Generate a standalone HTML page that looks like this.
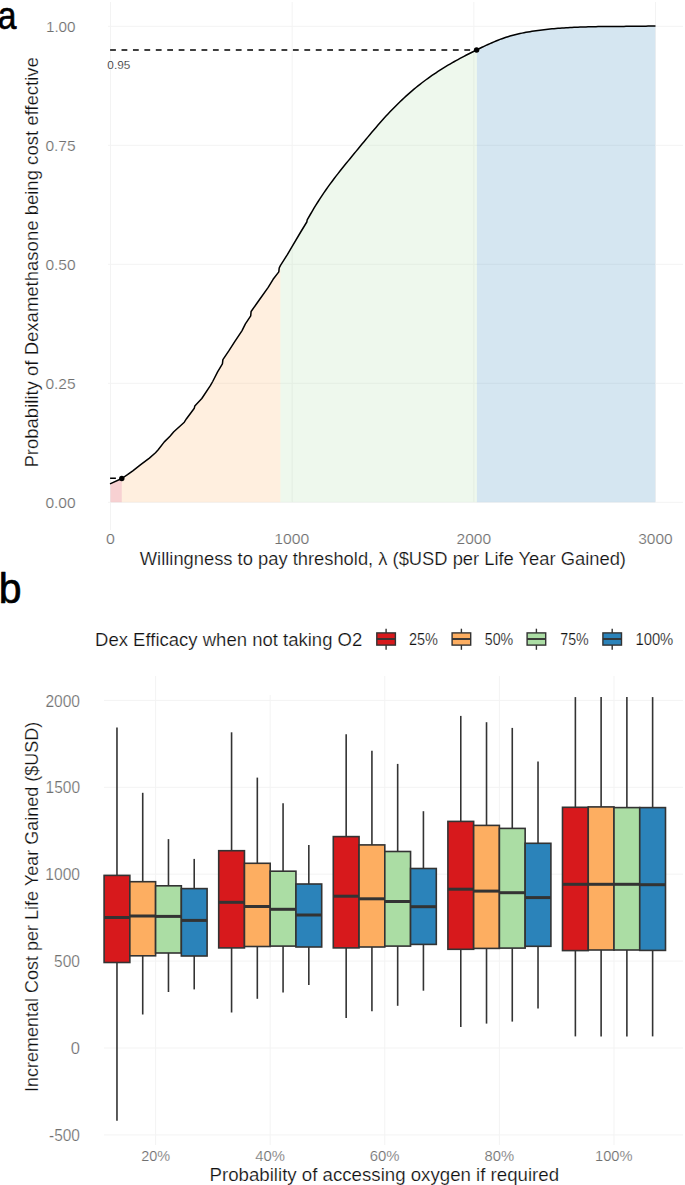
<!DOCTYPE html>
<html><head><meta charset="utf-8"><style>
html,body{margin:0;padding:0;background:#fff;width:685px;height:1185px;overflow:hidden}
svg{display:block}
</style></head><body>
<svg width="685" height="1185" viewBox="0 0 685 1185" font-family='"Liberation Sans", sans-serif'>
<rect x="0" y="0" width="685" height="1185" fill="#fff"/>
<line x1="108" y1="502.30" x2="683" y2="502.30" stroke="#f3f3f3" stroke-width="1"/>
<line x1="108" y1="383.30" x2="683" y2="383.30" stroke="#f3f3f3" stroke-width="1"/>
<line x1="108" y1="264.30" x2="683" y2="264.30" stroke="#f3f3f3" stroke-width="1"/>
<line x1="108" y1="145.30" x2="683" y2="145.30" stroke="#f3f3f3" stroke-width="1"/>
<line x1="108" y1="26.30" x2="683" y2="26.30" stroke="#f3f3f3" stroke-width="1"/>
<line x1="110.50" y1="2" x2="110.50" y2="530" stroke="#f3f3f3" stroke-width="1"/>
<line x1="292.17" y1="2" x2="292.17" y2="502.3" stroke="#f3f3f3" stroke-width="1"/>
<line x1="473.83" y1="2" x2="473.83" y2="502.3" stroke="#f3f3f3" stroke-width="1"/>
<line x1="655.50" y1="2" x2="655.50" y2="502.3" stroke="#f3f3f3" stroke-width="1"/>
<clipPath id="c110"><rect x="110.5" y="0" width="11.299999999999997" height="600"/></clipPath>
<path d="M110.00,483.90 L121.80,478.50 L127.50,474.70 L132.80,470.80 L140.70,464.70 L149.40,458.10 L155.50,452.80 L158.20,449.80 L164.30,441.90 L170.00,436.20 L173.80,431.80 L184.30,422.20 L186.50,418.70 L194.30,408.20 L194.80,406.00 L201.80,398.50 L210.50,385.40 L212.70,381.50 L217.60,371.80 L222.40,363.90 L222.90,359.60 L228.80,350.90 L234.90,341.30 L241.90,330.80 L245.40,323.80 L250.70,315.90 L251.10,311.50 L259.40,299.70 L268.20,287.40 L273.10,279.30 L278.80,271.90 L279.20,268.00 L280.50,265.30 L287.50,254.40 L291.90,246.90 L300.70,232.00 L306.80,222.00 L307.20,219.80 L310.30,214.50 L312.00,211.54 L314.00,208.18 L316.00,204.92 L318.00,201.73 L320.00,198.63 L322.00,195.61 L324.00,192.65 L326.00,189.77 L328.00,186.94 L330.00,184.17 L332.00,181.46 L334.00,178.80 L336.00,176.17 L338.00,173.59 L340.00,171.05 L342.00,168.53 L344.00,166.04 L346.00,163.57 L348.00,161.12 L350.00,158.68 L352.00,156.25 L354.00,153.82 L356.00,151.39 L358.00,148.96 L360.00,146.53 L362.00,144.10 L364.00,141.68 L366.00,139.26 L368.00,136.86 L370.00,134.46 L372.00,132.09 L374.00,129.73 L376.00,127.39 L378.00,125.08 L380.00,122.79 L382.00,120.53 L384.00,118.31 L386.00,116.11 L388.00,113.96 L390.00,111.83 L392.00,109.75 L394.00,107.70 L396.00,105.68 L398.00,103.70 L400.00,101.76 L402.00,99.85 L404.00,97.98 L406.00,96.14 L408.00,94.34 L410.00,92.58 L412.00,90.85 L414.00,89.16 L416.00,87.50 L418.00,85.88 L420.00,84.30 L422.00,82.75 L424.00,81.23 L426.00,79.74 L428.00,78.29 L430.00,76.86 L432.00,75.46 L434.00,74.10 L436.00,72.76 L438.00,71.44 L440.00,70.15 L442.00,68.89 L444.00,67.65 L446.00,66.43 L448.00,65.23 L450.00,64.06 L452.00,62.90 L454.00,61.76 L456.00,60.64 L458.00,59.54 L460.00,58.46 L462.00,57.38 L464.00,56.33 L466.00,55.28 L468.00,54.25 L470.00,53.23 L472.00,52.22 L474.00,51.22 L476.00,50.22 L478.00,49.24 L480.00,48.26 L482.00,47.29 L484.00,46.33 L486.00,45.40 L488.00,44.47 L490.00,43.57 L492.00,42.69 L494.00,41.83 L496.00,41.00 L498.00,40.19 L500.00,39.42 L502.00,38.68 L504.00,37.97 L506.00,37.30 L508.00,36.67 L510.00,36.07 L512.00,35.50 L514.00,34.97 L516.00,34.47 L518.00,34.00 L520.00,33.55 L522.00,33.13 L524.00,32.74 L526.00,32.36 L528.00,32.01 L530.00,31.67 L532.00,31.35 L534.00,31.05 L536.00,30.76 L538.00,30.48 L540.00,30.22 L542.00,29.96 L544.00,29.72 L546.00,29.49 L548.00,29.28 L550.00,29.07 L552.00,28.87 L554.00,28.69 L556.00,28.51 L558.00,28.35 L560.00,28.19 L562.00,28.04 L564.00,27.90 L566.00,27.77 L568.00,27.65 L570.00,27.54 L572.00,27.43 L574.00,27.33 L576.00,27.24 L578.00,27.16 L580.00,27.08 L582.00,27.01 L584.00,26.94 L586.00,26.88 L588.00,26.83 L590.00,26.78 L592.00,26.73 L594.00,26.69 L596.00,26.65 L598.00,26.62 L600.00,26.59 L602.00,26.56 L604.00,26.53 L606.00,26.51 L608.00,26.49 L610.00,26.48 L612.00,26.46 L614.00,26.44 L616.00,26.43 L618.00,26.42 L620.00,26.40 L622.00,26.39 L624.00,26.38 L626.00,26.36 L628.00,26.35 L630.00,26.34 L632.00,26.32 L634.00,26.30 L636.00,26.28 L638.00,26.26 L640.00,26.23 L642.00,26.20 L644.00,26.17 L646.00,26.13 L648.00,26.10 L650.00,26.05 L652.00,26.00 L654.00,25.95 L655.50,25.91 L655.50,502.3 L110.00,502.3 Z" fill="#d7191c" fill-opacity="0.2" clip-path="url(#c110)"/>
<clipPath id="c121"><rect x="121.8" y="0" width="158.59999999999997" height="600"/></clipPath>
<path d="M110.00,483.90 L121.80,478.50 L127.50,474.70 L132.80,470.80 L140.70,464.70 L149.40,458.10 L155.50,452.80 L158.20,449.80 L164.30,441.90 L170.00,436.20 L173.80,431.80 L184.30,422.20 L186.50,418.70 L194.30,408.20 L194.80,406.00 L201.80,398.50 L210.50,385.40 L212.70,381.50 L217.60,371.80 L222.40,363.90 L222.90,359.60 L228.80,350.90 L234.90,341.30 L241.90,330.80 L245.40,323.80 L250.70,315.90 L251.10,311.50 L259.40,299.70 L268.20,287.40 L273.10,279.30 L278.80,271.90 L279.20,268.00 L280.50,265.30 L287.50,254.40 L291.90,246.90 L300.70,232.00 L306.80,222.00 L307.20,219.80 L310.30,214.50 L312.00,211.54 L314.00,208.18 L316.00,204.92 L318.00,201.73 L320.00,198.63 L322.00,195.61 L324.00,192.65 L326.00,189.77 L328.00,186.94 L330.00,184.17 L332.00,181.46 L334.00,178.80 L336.00,176.17 L338.00,173.59 L340.00,171.05 L342.00,168.53 L344.00,166.04 L346.00,163.57 L348.00,161.12 L350.00,158.68 L352.00,156.25 L354.00,153.82 L356.00,151.39 L358.00,148.96 L360.00,146.53 L362.00,144.10 L364.00,141.68 L366.00,139.26 L368.00,136.86 L370.00,134.46 L372.00,132.09 L374.00,129.73 L376.00,127.39 L378.00,125.08 L380.00,122.79 L382.00,120.53 L384.00,118.31 L386.00,116.11 L388.00,113.96 L390.00,111.83 L392.00,109.75 L394.00,107.70 L396.00,105.68 L398.00,103.70 L400.00,101.76 L402.00,99.85 L404.00,97.98 L406.00,96.14 L408.00,94.34 L410.00,92.58 L412.00,90.85 L414.00,89.16 L416.00,87.50 L418.00,85.88 L420.00,84.30 L422.00,82.75 L424.00,81.23 L426.00,79.74 L428.00,78.29 L430.00,76.86 L432.00,75.46 L434.00,74.10 L436.00,72.76 L438.00,71.44 L440.00,70.15 L442.00,68.89 L444.00,67.65 L446.00,66.43 L448.00,65.23 L450.00,64.06 L452.00,62.90 L454.00,61.76 L456.00,60.64 L458.00,59.54 L460.00,58.46 L462.00,57.38 L464.00,56.33 L466.00,55.28 L468.00,54.25 L470.00,53.23 L472.00,52.22 L474.00,51.22 L476.00,50.22 L478.00,49.24 L480.00,48.26 L482.00,47.29 L484.00,46.33 L486.00,45.40 L488.00,44.47 L490.00,43.57 L492.00,42.69 L494.00,41.83 L496.00,41.00 L498.00,40.19 L500.00,39.42 L502.00,38.68 L504.00,37.97 L506.00,37.30 L508.00,36.67 L510.00,36.07 L512.00,35.50 L514.00,34.97 L516.00,34.47 L518.00,34.00 L520.00,33.55 L522.00,33.13 L524.00,32.74 L526.00,32.36 L528.00,32.01 L530.00,31.67 L532.00,31.35 L534.00,31.05 L536.00,30.76 L538.00,30.48 L540.00,30.22 L542.00,29.96 L544.00,29.72 L546.00,29.49 L548.00,29.28 L550.00,29.07 L552.00,28.87 L554.00,28.69 L556.00,28.51 L558.00,28.35 L560.00,28.19 L562.00,28.04 L564.00,27.90 L566.00,27.77 L568.00,27.65 L570.00,27.54 L572.00,27.43 L574.00,27.33 L576.00,27.24 L578.00,27.16 L580.00,27.08 L582.00,27.01 L584.00,26.94 L586.00,26.88 L588.00,26.83 L590.00,26.78 L592.00,26.73 L594.00,26.69 L596.00,26.65 L598.00,26.62 L600.00,26.59 L602.00,26.56 L604.00,26.53 L606.00,26.51 L608.00,26.49 L610.00,26.48 L612.00,26.46 L614.00,26.44 L616.00,26.43 L618.00,26.42 L620.00,26.40 L622.00,26.39 L624.00,26.38 L626.00,26.36 L628.00,26.35 L630.00,26.34 L632.00,26.32 L634.00,26.30 L636.00,26.28 L638.00,26.26 L640.00,26.23 L642.00,26.20 L644.00,26.17 L646.00,26.13 L648.00,26.10 L650.00,26.05 L652.00,26.00 L654.00,25.95 L655.50,25.91 L655.50,502.3 L110.00,502.3 Z" fill="#fdae61" fill-opacity="0.2" clip-path="url(#c121)"/>
<clipPath id="c280"><rect x="280.4" y="0" width="196.5" height="600"/></clipPath>
<path d="M110.00,483.90 L121.80,478.50 L127.50,474.70 L132.80,470.80 L140.70,464.70 L149.40,458.10 L155.50,452.80 L158.20,449.80 L164.30,441.90 L170.00,436.20 L173.80,431.80 L184.30,422.20 L186.50,418.70 L194.30,408.20 L194.80,406.00 L201.80,398.50 L210.50,385.40 L212.70,381.50 L217.60,371.80 L222.40,363.90 L222.90,359.60 L228.80,350.90 L234.90,341.30 L241.90,330.80 L245.40,323.80 L250.70,315.90 L251.10,311.50 L259.40,299.70 L268.20,287.40 L273.10,279.30 L278.80,271.90 L279.20,268.00 L280.50,265.30 L287.50,254.40 L291.90,246.90 L300.70,232.00 L306.80,222.00 L307.20,219.80 L310.30,214.50 L312.00,211.54 L314.00,208.18 L316.00,204.92 L318.00,201.73 L320.00,198.63 L322.00,195.61 L324.00,192.65 L326.00,189.77 L328.00,186.94 L330.00,184.17 L332.00,181.46 L334.00,178.80 L336.00,176.17 L338.00,173.59 L340.00,171.05 L342.00,168.53 L344.00,166.04 L346.00,163.57 L348.00,161.12 L350.00,158.68 L352.00,156.25 L354.00,153.82 L356.00,151.39 L358.00,148.96 L360.00,146.53 L362.00,144.10 L364.00,141.68 L366.00,139.26 L368.00,136.86 L370.00,134.46 L372.00,132.09 L374.00,129.73 L376.00,127.39 L378.00,125.08 L380.00,122.79 L382.00,120.53 L384.00,118.31 L386.00,116.11 L388.00,113.96 L390.00,111.83 L392.00,109.75 L394.00,107.70 L396.00,105.68 L398.00,103.70 L400.00,101.76 L402.00,99.85 L404.00,97.98 L406.00,96.14 L408.00,94.34 L410.00,92.58 L412.00,90.85 L414.00,89.16 L416.00,87.50 L418.00,85.88 L420.00,84.30 L422.00,82.75 L424.00,81.23 L426.00,79.74 L428.00,78.29 L430.00,76.86 L432.00,75.46 L434.00,74.10 L436.00,72.76 L438.00,71.44 L440.00,70.15 L442.00,68.89 L444.00,67.65 L446.00,66.43 L448.00,65.23 L450.00,64.06 L452.00,62.90 L454.00,61.76 L456.00,60.64 L458.00,59.54 L460.00,58.46 L462.00,57.38 L464.00,56.33 L466.00,55.28 L468.00,54.25 L470.00,53.23 L472.00,52.22 L474.00,51.22 L476.00,50.22 L478.00,49.24 L480.00,48.26 L482.00,47.29 L484.00,46.33 L486.00,45.40 L488.00,44.47 L490.00,43.57 L492.00,42.69 L494.00,41.83 L496.00,41.00 L498.00,40.19 L500.00,39.42 L502.00,38.68 L504.00,37.97 L506.00,37.30 L508.00,36.67 L510.00,36.07 L512.00,35.50 L514.00,34.97 L516.00,34.47 L518.00,34.00 L520.00,33.55 L522.00,33.13 L524.00,32.74 L526.00,32.36 L528.00,32.01 L530.00,31.67 L532.00,31.35 L534.00,31.05 L536.00,30.76 L538.00,30.48 L540.00,30.22 L542.00,29.96 L544.00,29.72 L546.00,29.49 L548.00,29.28 L550.00,29.07 L552.00,28.87 L554.00,28.69 L556.00,28.51 L558.00,28.35 L560.00,28.19 L562.00,28.04 L564.00,27.90 L566.00,27.77 L568.00,27.65 L570.00,27.54 L572.00,27.43 L574.00,27.33 L576.00,27.24 L578.00,27.16 L580.00,27.08 L582.00,27.01 L584.00,26.94 L586.00,26.88 L588.00,26.83 L590.00,26.78 L592.00,26.73 L594.00,26.69 L596.00,26.65 L598.00,26.62 L600.00,26.59 L602.00,26.56 L604.00,26.53 L606.00,26.51 L608.00,26.49 L610.00,26.48 L612.00,26.46 L614.00,26.44 L616.00,26.43 L618.00,26.42 L620.00,26.40 L622.00,26.39 L624.00,26.38 L626.00,26.36 L628.00,26.35 L630.00,26.34 L632.00,26.32 L634.00,26.30 L636.00,26.28 L638.00,26.26 L640.00,26.23 L642.00,26.20 L644.00,26.17 L646.00,26.13 L648.00,26.10 L650.00,26.05 L652.00,26.00 L654.00,25.95 L655.50,25.91 L655.50,502.3 L110.00,502.3 Z" fill="#abdda4" fill-opacity="0.2" clip-path="url(#c280)"/>
<clipPath id="c476"><rect x="476.9" y="0" width="178.60000000000002" height="600"/></clipPath>
<path d="M110.00,483.90 L121.80,478.50 L127.50,474.70 L132.80,470.80 L140.70,464.70 L149.40,458.10 L155.50,452.80 L158.20,449.80 L164.30,441.90 L170.00,436.20 L173.80,431.80 L184.30,422.20 L186.50,418.70 L194.30,408.20 L194.80,406.00 L201.80,398.50 L210.50,385.40 L212.70,381.50 L217.60,371.80 L222.40,363.90 L222.90,359.60 L228.80,350.90 L234.90,341.30 L241.90,330.80 L245.40,323.80 L250.70,315.90 L251.10,311.50 L259.40,299.70 L268.20,287.40 L273.10,279.30 L278.80,271.90 L279.20,268.00 L280.50,265.30 L287.50,254.40 L291.90,246.90 L300.70,232.00 L306.80,222.00 L307.20,219.80 L310.30,214.50 L312.00,211.54 L314.00,208.18 L316.00,204.92 L318.00,201.73 L320.00,198.63 L322.00,195.61 L324.00,192.65 L326.00,189.77 L328.00,186.94 L330.00,184.17 L332.00,181.46 L334.00,178.80 L336.00,176.17 L338.00,173.59 L340.00,171.05 L342.00,168.53 L344.00,166.04 L346.00,163.57 L348.00,161.12 L350.00,158.68 L352.00,156.25 L354.00,153.82 L356.00,151.39 L358.00,148.96 L360.00,146.53 L362.00,144.10 L364.00,141.68 L366.00,139.26 L368.00,136.86 L370.00,134.46 L372.00,132.09 L374.00,129.73 L376.00,127.39 L378.00,125.08 L380.00,122.79 L382.00,120.53 L384.00,118.31 L386.00,116.11 L388.00,113.96 L390.00,111.83 L392.00,109.75 L394.00,107.70 L396.00,105.68 L398.00,103.70 L400.00,101.76 L402.00,99.85 L404.00,97.98 L406.00,96.14 L408.00,94.34 L410.00,92.58 L412.00,90.85 L414.00,89.16 L416.00,87.50 L418.00,85.88 L420.00,84.30 L422.00,82.75 L424.00,81.23 L426.00,79.74 L428.00,78.29 L430.00,76.86 L432.00,75.46 L434.00,74.10 L436.00,72.76 L438.00,71.44 L440.00,70.15 L442.00,68.89 L444.00,67.65 L446.00,66.43 L448.00,65.23 L450.00,64.06 L452.00,62.90 L454.00,61.76 L456.00,60.64 L458.00,59.54 L460.00,58.46 L462.00,57.38 L464.00,56.33 L466.00,55.28 L468.00,54.25 L470.00,53.23 L472.00,52.22 L474.00,51.22 L476.00,50.22 L478.00,49.24 L480.00,48.26 L482.00,47.29 L484.00,46.33 L486.00,45.40 L488.00,44.47 L490.00,43.57 L492.00,42.69 L494.00,41.83 L496.00,41.00 L498.00,40.19 L500.00,39.42 L502.00,38.68 L504.00,37.97 L506.00,37.30 L508.00,36.67 L510.00,36.07 L512.00,35.50 L514.00,34.97 L516.00,34.47 L518.00,34.00 L520.00,33.55 L522.00,33.13 L524.00,32.74 L526.00,32.36 L528.00,32.01 L530.00,31.67 L532.00,31.35 L534.00,31.05 L536.00,30.76 L538.00,30.48 L540.00,30.22 L542.00,29.96 L544.00,29.72 L546.00,29.49 L548.00,29.28 L550.00,29.07 L552.00,28.87 L554.00,28.69 L556.00,28.51 L558.00,28.35 L560.00,28.19 L562.00,28.04 L564.00,27.90 L566.00,27.77 L568.00,27.65 L570.00,27.54 L572.00,27.43 L574.00,27.33 L576.00,27.24 L578.00,27.16 L580.00,27.08 L582.00,27.01 L584.00,26.94 L586.00,26.88 L588.00,26.83 L590.00,26.78 L592.00,26.73 L594.00,26.69 L596.00,26.65 L598.00,26.62 L600.00,26.59 L602.00,26.56 L604.00,26.53 L606.00,26.51 L608.00,26.49 L610.00,26.48 L612.00,26.46 L614.00,26.44 L616.00,26.43 L618.00,26.42 L620.00,26.40 L622.00,26.39 L624.00,26.38 L626.00,26.36 L628.00,26.35 L630.00,26.34 L632.00,26.32 L634.00,26.30 L636.00,26.28 L638.00,26.26 L640.00,26.23 L642.00,26.20 L644.00,26.17 L646.00,26.13 L648.00,26.10 L650.00,26.05 L652.00,26.00 L654.00,25.95 L655.50,25.91 L655.50,502.3 L110.00,502.3 Z" fill="#2b83ba" fill-opacity="0.2" clip-path="url(#c476)"/>
<line x1="110.1" y1="49.95" x2="476.6" y2="49.95" stroke="#000" stroke-width="1.6" stroke-dasharray="5.8 5.626"/>
<line x1="110.1" y1="478.3" x2="121.8" y2="478.3" stroke="#000" stroke-width="1.6" stroke-dasharray="5.8 5.626"/>
<path d="M110.00,483.90 L121.80,478.50 L127.50,474.70 L132.80,470.80 L140.70,464.70 L149.40,458.10 L155.50,452.80 L158.20,449.80 L164.30,441.90 L170.00,436.20 L173.80,431.80 L184.30,422.20 L186.50,418.70 L194.30,408.20 L194.80,406.00 L201.80,398.50 L210.50,385.40 L212.70,381.50 L217.60,371.80 L222.40,363.90 L222.90,359.60 L228.80,350.90 L234.90,341.30 L241.90,330.80 L245.40,323.80 L250.70,315.90 L251.10,311.50 L259.40,299.70 L268.20,287.40 L273.10,279.30 L278.80,271.90 L279.20,268.00 L280.50,265.30 L287.50,254.40 L291.90,246.90 L300.70,232.00 L306.80,222.00 L307.20,219.80 L310.30,214.50 L312.00,211.54 L314.00,208.18 L316.00,204.92 L318.00,201.73 L320.00,198.63 L322.00,195.61 L324.00,192.65 L326.00,189.77 L328.00,186.94 L330.00,184.17 L332.00,181.46 L334.00,178.80 L336.00,176.17 L338.00,173.59 L340.00,171.05 L342.00,168.53 L344.00,166.04 L346.00,163.57 L348.00,161.12 L350.00,158.68 L352.00,156.25 L354.00,153.82 L356.00,151.39 L358.00,148.96 L360.00,146.53 L362.00,144.10 L364.00,141.68 L366.00,139.26 L368.00,136.86 L370.00,134.46 L372.00,132.09 L374.00,129.73 L376.00,127.39 L378.00,125.08 L380.00,122.79 L382.00,120.53 L384.00,118.31 L386.00,116.11 L388.00,113.96 L390.00,111.83 L392.00,109.75 L394.00,107.70 L396.00,105.68 L398.00,103.70 L400.00,101.76 L402.00,99.85 L404.00,97.98 L406.00,96.14 L408.00,94.34 L410.00,92.58 L412.00,90.85 L414.00,89.16 L416.00,87.50 L418.00,85.88 L420.00,84.30 L422.00,82.75 L424.00,81.23 L426.00,79.74 L428.00,78.29 L430.00,76.86 L432.00,75.46 L434.00,74.10 L436.00,72.76 L438.00,71.44 L440.00,70.15 L442.00,68.89 L444.00,67.65 L446.00,66.43 L448.00,65.23 L450.00,64.06 L452.00,62.90 L454.00,61.76 L456.00,60.64 L458.00,59.54 L460.00,58.46 L462.00,57.38 L464.00,56.33 L466.00,55.28 L468.00,54.25 L470.00,53.23 L472.00,52.22 L474.00,51.22 L476.00,50.22 L478.00,49.24 L480.00,48.26 L482.00,47.29 L484.00,46.33 L486.00,45.40 L488.00,44.47 L490.00,43.57 L492.00,42.69 L494.00,41.83 L496.00,41.00 L498.00,40.19 L500.00,39.42 L502.00,38.68 L504.00,37.97 L506.00,37.30 L508.00,36.67 L510.00,36.07 L512.00,35.50 L514.00,34.97 L516.00,34.47 L518.00,34.00 L520.00,33.55 L522.00,33.13 L524.00,32.74 L526.00,32.36 L528.00,32.01 L530.00,31.67 L532.00,31.35 L534.00,31.05 L536.00,30.76 L538.00,30.48 L540.00,30.22 L542.00,29.96 L544.00,29.72 L546.00,29.49 L548.00,29.28 L550.00,29.07 L552.00,28.87 L554.00,28.69 L556.00,28.51 L558.00,28.35 L560.00,28.19 L562.00,28.04 L564.00,27.90 L566.00,27.77 L568.00,27.65 L570.00,27.54 L572.00,27.43 L574.00,27.33 L576.00,27.24 L578.00,27.16 L580.00,27.08 L582.00,27.01 L584.00,26.94 L586.00,26.88 L588.00,26.83 L590.00,26.78 L592.00,26.73 L594.00,26.69 L596.00,26.65 L598.00,26.62 L600.00,26.59 L602.00,26.56 L604.00,26.53 L606.00,26.51 L608.00,26.49 L610.00,26.48 L612.00,26.46 L614.00,26.44 L616.00,26.43 L618.00,26.42 L620.00,26.40 L622.00,26.39 L624.00,26.38 L626.00,26.36 L628.00,26.35 L630.00,26.34 L632.00,26.32 L634.00,26.30 L636.00,26.28 L638.00,26.26 L640.00,26.23 L642.00,26.20 L644.00,26.17 L646.00,26.13 L648.00,26.10 L650.00,26.05 L652.00,26.00 L654.00,25.95 L655.50,25.91" fill="none" stroke="#000" stroke-width="1.5" stroke-linejoin="round"/>
<circle cx="121.8" cy="478.5" r="2.7" fill="#000"/>
<circle cx="476.6" cy="50.0" r="2.7" fill="#000"/>
<line x1="104" y1="700.40" x2="683" y2="700.40" stroke="#f3f3f3" stroke-width="1"/>
<line x1="104" y1="787.30" x2="683" y2="787.30" stroke="#f3f3f3" stroke-width="1"/>
<line x1="104" y1="874.20" x2="683" y2="874.20" stroke="#f3f3f3" stroke-width="1"/>
<line x1="104" y1="961.10" x2="683" y2="961.10" stroke="#f3f3f3" stroke-width="1"/>
<line x1="104" y1="1048.00" x2="683" y2="1048.00" stroke="#f3f3f3" stroke-width="1"/>
<line x1="104" y1="1134.90" x2="683" y2="1134.90" stroke="#f3f3f3" stroke-width="1"/>
<line x1="155.60" y1="676" x2="155.60" y2="1145" stroke="#f3f3f3" stroke-width="1"/>
<line x1="270.20" y1="695" x2="270.20" y2="1145" stroke="#f3f3f3" stroke-width="1"/>
<line x1="384.80" y1="676" x2="384.80" y2="1145" stroke="#f3f3f3" stroke-width="1"/>
<line x1="499.40" y1="676" x2="499.40" y2="1145" stroke="#f3f3f3" stroke-width="1"/>
<line x1="614.00" y1="676" x2="614.00" y2="1145" stroke="#f3f3f3" stroke-width="1"/>
<line x1="116.97" y1="727.6" x2="116.97" y2="875.4" stroke="#333333" stroke-width="1.6"/>
<line x1="116.97" y1="962.5" x2="116.97" y2="1120.7" stroke="#333333" stroke-width="1.6"/>
<rect x="104.10" y="875.4" width="25.75" height="87.10" fill="#d7191c" stroke="#333333" stroke-width="1.6"/>
<line x1="104.10" y1="917.5" x2="129.85" y2="917.5" stroke="#333333" stroke-width="3"/>
<line x1="142.72" y1="792.8" x2="142.72" y2="881.7" stroke="#333333" stroke-width="1.6"/>
<line x1="142.72" y1="955.8" x2="142.72" y2="1014.5" stroke="#333333" stroke-width="1.6"/>
<rect x="129.85" y="881.7" width="25.75" height="74.10" fill="#fdae61" stroke="#333333" stroke-width="1.6"/>
<line x1="129.85" y1="916" x2="155.60" y2="916" stroke="#333333" stroke-width="3"/>
<line x1="168.47" y1="839.1" x2="168.47" y2="885.8" stroke="#333333" stroke-width="1.6"/>
<line x1="168.47" y1="953" x2="168.47" y2="992" stroke="#333333" stroke-width="1.6"/>
<rect x="155.60" y="885.8" width="25.75" height="67.20" fill="#abdda4" stroke="#333333" stroke-width="1.6"/>
<line x1="155.60" y1="916.4" x2="181.35" y2="916.4" stroke="#333333" stroke-width="3"/>
<line x1="194.22" y1="858.9" x2="194.22" y2="888.6" stroke="#333333" stroke-width="1.6"/>
<line x1="194.22" y1="956" x2="194.22" y2="989.4" stroke="#333333" stroke-width="1.6"/>
<rect x="181.35" y="888.6" width="25.75" height="67.40" fill="#2b83ba" stroke="#333333" stroke-width="1.6"/>
<line x1="181.35" y1="920.4" x2="207.10" y2="920.4" stroke="#333333" stroke-width="3"/>
<line x1="231.57" y1="732.3" x2="231.57" y2="850.7" stroke="#333333" stroke-width="1.6"/>
<line x1="231.57" y1="947.9" x2="231.57" y2="1012.5" stroke="#333333" stroke-width="1.6"/>
<rect x="218.70" y="850.7" width="25.75" height="97.20" fill="#d7191c" stroke="#333333" stroke-width="1.6"/>
<line x1="218.70" y1="902.3" x2="244.45" y2="902.3" stroke="#333333" stroke-width="3"/>
<line x1="257.32" y1="777.6" x2="257.32" y2="863.3" stroke="#333333" stroke-width="1.6"/>
<line x1="257.32" y1="946.5" x2="257.32" y2="998.8" stroke="#333333" stroke-width="1.6"/>
<rect x="244.45" y="863.3" width="25.75" height="83.20" fill="#fdae61" stroke="#333333" stroke-width="1.6"/>
<line x1="244.45" y1="906.5" x2="270.20" y2="906.5" stroke="#333333" stroke-width="3"/>
<line x1="283.07" y1="803.2" x2="283.07" y2="871.2" stroke="#333333" stroke-width="1.6"/>
<line x1="283.07" y1="946.1" x2="283.07" y2="992.4" stroke="#333333" stroke-width="1.6"/>
<rect x="270.20" y="871.2" width="25.75" height="74.90" fill="#abdda4" stroke="#333333" stroke-width="1.6"/>
<line x1="270.20" y1="909.3" x2="295.95" y2="909.3" stroke="#333333" stroke-width="3"/>
<line x1="308.82" y1="844.9" x2="308.82" y2="884" stroke="#333333" stroke-width="1.6"/>
<line x1="308.82" y1="947" x2="308.82" y2="985" stroke="#333333" stroke-width="1.6"/>
<rect x="295.95" y="884" width="25.75" height="63.00" fill="#2b83ba" stroke="#333333" stroke-width="1.6"/>
<line x1="295.95" y1="915" x2="321.70" y2="915" stroke="#333333" stroke-width="3"/>
<line x1="346.17" y1="734.3" x2="346.17" y2="836.6" stroke="#333333" stroke-width="1.6"/>
<line x1="346.17" y1="947.9" x2="346.17" y2="1017.9" stroke="#333333" stroke-width="1.6"/>
<rect x="333.30" y="836.6" width="25.75" height="111.30" fill="#d7191c" stroke="#333333" stroke-width="1.6"/>
<line x1="333.30" y1="896.2" x2="359.05" y2="896.2" stroke="#333333" stroke-width="3"/>
<line x1="371.92" y1="750.8" x2="371.92" y2="844.9" stroke="#333333" stroke-width="1.6"/>
<line x1="371.92" y1="947" x2="371.92" y2="1011.2" stroke="#333333" stroke-width="1.6"/>
<rect x="359.05" y="844.9" width="25.75" height="102.10" fill="#fdae61" stroke="#333333" stroke-width="1.6"/>
<line x1="359.05" y1="898.8" x2="384.80" y2="898.8" stroke="#333333" stroke-width="3"/>
<line x1="397.67" y1="763.9" x2="397.67" y2="851.5" stroke="#333333" stroke-width="1.6"/>
<line x1="397.67" y1="946.1" x2="397.67" y2="1005.8" stroke="#333333" stroke-width="1.6"/>
<rect x="384.80" y="851.5" width="25.75" height="94.60" fill="#abdda4" stroke="#333333" stroke-width="1.6"/>
<line x1="384.80" y1="901.5" x2="410.55" y2="901.5" stroke="#333333" stroke-width="3"/>
<line x1="423.42" y1="811.2" x2="423.42" y2="868.5" stroke="#333333" stroke-width="1.6"/>
<line x1="423.42" y1="944.4" x2="423.42" y2="990.7" stroke="#333333" stroke-width="1.6"/>
<rect x="410.55" y="868.5" width="25.75" height="75.90" fill="#2b83ba" stroke="#333333" stroke-width="1.6"/>
<line x1="410.55" y1="906.7" x2="436.30" y2="906.7" stroke="#333333" stroke-width="3"/>
<line x1="460.77" y1="715.9" x2="460.77" y2="821.4" stroke="#333333" stroke-width="1.6"/>
<line x1="460.77" y1="949.3" x2="460.77" y2="1027" stroke="#333333" stroke-width="1.6"/>
<rect x="447.90" y="821.4" width="25.75" height="127.90" fill="#d7191c" stroke="#333333" stroke-width="1.6"/>
<line x1="447.90" y1="889.2" x2="473.65" y2="889.2" stroke="#333333" stroke-width="3"/>
<line x1="486.52" y1="722.2" x2="486.52" y2="825.4" stroke="#333333" stroke-width="1.6"/>
<line x1="486.52" y1="948.4" x2="486.52" y2="1023.6" stroke="#333333" stroke-width="1.6"/>
<rect x="473.65" y="825.4" width="25.75" height="123.00" fill="#fdae61" stroke="#333333" stroke-width="1.6"/>
<line x1="473.65" y1="891.1" x2="499.40" y2="891.1" stroke="#333333" stroke-width="3"/>
<line x1="512.27" y1="727.9" x2="512.27" y2="828.4" stroke="#333333" stroke-width="1.6"/>
<line x1="512.27" y1="948.1" x2="512.27" y2="1021.6" stroke="#333333" stroke-width="1.6"/>
<rect x="499.40" y="828.4" width="25.75" height="119.70" fill="#abdda4" stroke="#333333" stroke-width="1.6"/>
<line x1="499.40" y1="892.7" x2="525.15" y2="892.7" stroke="#333333" stroke-width="3"/>
<line x1="538.02" y1="761.5" x2="538.02" y2="843.3" stroke="#333333" stroke-width="1.6"/>
<line x1="538.02" y1="946.3" x2="538.02" y2="1008.5" stroke="#333333" stroke-width="1.6"/>
<rect x="525.15" y="843.3" width="25.75" height="103.00" fill="#2b83ba" stroke="#333333" stroke-width="1.6"/>
<line x1="525.15" y1="897.6" x2="550.90" y2="897.6" stroke="#333333" stroke-width="3"/>
<line x1="575.38" y1="697.1" x2="575.38" y2="807.3" stroke="#333333" stroke-width="1.6"/>
<line x1="575.38" y1="950.6" x2="575.38" y2="1036.4" stroke="#333333" stroke-width="1.6"/>
<rect x="562.50" y="807.3" width="25.75" height="143.30" fill="#d7191c" stroke="#333333" stroke-width="1.6"/>
<line x1="562.50" y1="884.3" x2="588.25" y2="884.3" stroke="#333333" stroke-width="3"/>
<line x1="601.12" y1="697.1" x2="601.12" y2="806.9" stroke="#333333" stroke-width="1.6"/>
<line x1="601.12" y1="950" x2="601.12" y2="1036.4" stroke="#333333" stroke-width="1.6"/>
<rect x="588.25" y="806.9" width="25.75" height="143.10" fill="#fdae61" stroke="#333333" stroke-width="1.6"/>
<line x1="588.25" y1="884.3" x2="614.00" y2="884.3" stroke="#333333" stroke-width="3"/>
<line x1="626.88" y1="697.1" x2="626.88" y2="807.6" stroke="#333333" stroke-width="1.6"/>
<line x1="626.88" y1="950" x2="626.88" y2="1036.4" stroke="#333333" stroke-width="1.6"/>
<rect x="614.00" y="807.6" width="25.75" height="142.40" fill="#abdda4" stroke="#333333" stroke-width="1.6"/>
<line x1="614.00" y1="884.3" x2="639.75" y2="884.3" stroke="#333333" stroke-width="3"/>
<line x1="652.62" y1="697.1" x2="652.62" y2="807.6" stroke="#333333" stroke-width="1.6"/>
<line x1="652.62" y1="950.4" x2="652.62" y2="1036.4" stroke="#333333" stroke-width="1.6"/>
<rect x="639.75" y="807.6" width="25.75" height="142.80" fill="#2b83ba" stroke="#333333" stroke-width="1.6"/>
<line x1="639.75" y1="884.7" x2="665.50" y2="884.7" stroke="#333333" stroke-width="3"/>
<line x1="386.10" y1="628.7" x2="386.10" y2="649.8" stroke="#333333" stroke-width="1.4"/>
<rect x="376.8" y="632.9" width="18.6" height="12.2" fill="#d7191c" stroke="#333333" stroke-width="1.4"/>
<line x1="376.8" y1="639" x2="395.40" y2="639" stroke="#333333" stroke-width="1.9"/>
<line x1="461.40" y1="628.7" x2="461.40" y2="649.8" stroke="#333333" stroke-width="1.4"/>
<rect x="452.1" y="632.9" width="18.6" height="12.2" fill="#fdae61" stroke="#333333" stroke-width="1.4"/>
<line x1="452.1" y1="639" x2="470.70" y2="639" stroke="#333333" stroke-width="1.9"/>
<line x1="536.40" y1="628.7" x2="536.40" y2="649.8" stroke="#333333" stroke-width="1.4"/>
<rect x="527.1" y="632.9" width="18.6" height="12.2" fill="#abdda4" stroke="#333333" stroke-width="1.4"/>
<line x1="527.1" y1="639" x2="545.70" y2="639" stroke="#333333" stroke-width="1.9"/>
<line x1="612.20" y1="628.7" x2="612.20" y2="649.8" stroke="#333333" stroke-width="1.4"/>
<rect x="602.9" y="632.9" width="18.6" height="12.2" fill="#2b83ba" stroke="#333333" stroke-width="1.4"/>
<line x1="602.9" y1="639" x2="621.50" y2="639" stroke="#333333" stroke-width="1.9"/>
<text transform="translate(-2.203,28.702) scale(0.7733,0.8958)" font-size="43.6" fill="#000" stroke="#000" stroke-width="0.7" stroke-linejoin="round">a</text>
<text transform="translate(45.880,31.841) scale(1.0198,1.0372)" font-size="15" fill="#707070" stroke="#fff" stroke-width="0.2">1.00</text>
<text transform="translate(45.381,150.841) scale(1.0372,1.0372)" font-size="15" fill="#707070" stroke="#fff" stroke-width="0.2">0.75</text>
<text transform="translate(45.381,269.841) scale(1.0372,1.0372)" font-size="15" fill="#707070" stroke="#fff" stroke-width="0.2">0.50</text>
<text transform="translate(45.381,388.841) scale(1.0372,1.0372)" font-size="15" fill="#707070" stroke="#fff" stroke-width="0.2">0.25</text>
<text transform="translate(45.381,507.841) scale(1.0372,1.0372)" font-size="15" fill="#707070" stroke="#fff" stroke-width="0.2">0.00</text>
<text transform="translate(107.366,68.795) scale(1.0683,1.0187)" font-size="11" fill="#111111" stroke="#fff" stroke-width="0.2">0.95</text>
<text transform="translate(106.069,544.256) scale(1.0621,0.9767)" font-size="15" fill="#707070" stroke="#fff" stroke-width="0.2">0</text>
<text transform="translate(274.351,544.256) scale(1.0488,0.9767)" font-size="15" fill="#707070" stroke="#fff" stroke-width="0.2">1000</text>
<text transform="translate(456.522,544.256) scale(1.0375,0.9767)" font-size="15" fill="#707070" stroke="#fff" stroke-width="0.2">2000</text>
<text transform="translate(638.184,544.256) scale(1.0326,0.9767)" font-size="15" fill="#707070" stroke="#fff" stroke-width="0.2">3000</text>
<text transform="translate(139.800,564.500) scale(1.0196,1.0240)" font-size="18" fill="#111111" stroke="#fff" stroke-width="0.2">Willingness to pay threshold, λ ($USD per Life Year Gained)</text>
<text transform="translate(37.900,467.544) rotate(-90) scale(1.0296,1.0240)" font-size="18" fill="#111111" stroke="#fff" stroke-width="0.2">Probability of Dexamethasone being cost effective</text>
<text transform="translate(-1.183,603.164) scale(0.9392,0.9719)" font-size="43.6" fill="#000" stroke="#000" stroke-width="0.7" stroke-linejoin="round">b</text>
<text transform="translate(95.057,646.000) scale(1.0287,1.0480)" font-size="18" fill="#111111" stroke="#fff" stroke-width="0.2">Dex Efficacy when not taking O2</text>
<text transform="translate(408.975,645.235) scale(0.9670,1.0605)" font-size="15" fill="#111111" stroke="#fff" stroke-width="0.2">25%</text>
<text transform="translate(484.726,645.235) scale(0.9483,1.0605)" font-size="15" fill="#111111" stroke="#fff" stroke-width="0.2">50%</text>
<text transform="translate(560.288,645.235) scale(0.9496,1.0605)" font-size="15" fill="#111111" stroke="#fff" stroke-width="0.2">75%</text>
<text transform="translate(635.412,645.235) scale(0.9878,1.0605)" font-size="15" fill="#111111" stroke="#fff" stroke-width="0.2">100%</text>
<text transform="translate(45.422,706.540) scale(1.0375,1.0419)" font-size="15" fill="#707070" stroke="#fff" stroke-width="0.2">2000</text>
<text transform="translate(45.567,793.440) scale(1.0331,1.0419)" font-size="15" fill="#707070" stroke="#fff" stroke-width="0.2">1500</text>
<text transform="translate(45.361,880.340) scale(1.0394,1.0419)" font-size="15" fill="#707070" stroke="#fff" stroke-width="0.2">1000</text>
<text transform="translate(54.083,967.240) scale(1.0333,1.0419)" font-size="15" fill="#707070" stroke="#fff" stroke-width="0.2">500</text>
<text transform="translate(70.848,1054.140) scale(1.1034,1.0419)" font-size="15" fill="#707070" stroke="#fff" stroke-width="0.2">0</text>
<text transform="translate(48.984,1141.040) scale(1.0310,1.0419)" font-size="15" fill="#707070" stroke="#fff" stroke-width="0.2">-500</text>
<text transform="translate(141.277,1160.944) scale(0.9635,1.0233)" font-size="15" fill="#707070" stroke="#fff" stroke-width="0.2">20%</text>
<text transform="translate(255.253,1160.944) scale(0.9880,1.0233)" font-size="15" fill="#707070" stroke="#fff" stroke-width="0.2">40%</text>
<text transform="translate(369.657,1160.944) scale(0.9913,1.0233)" font-size="15" fill="#707070" stroke="#fff" stroke-width="0.2">60%</text>
<text transform="translate(484.507,1160.944) scale(0.9862,1.0233)" font-size="15" fill="#707070" stroke="#fff" stroke-width="0.2">80%</text>
<text transform="translate(595.020,1160.944) scale(0.9796,1.0233)" font-size="15" fill="#707070" stroke="#fff" stroke-width="0.2">100%</text>
<text transform="translate(209.544,1180.900) scale(1.0374,1.0320)" font-size="18" fill="#111111" stroke="#fff" stroke-width="0.2">Probability of accessing oxygen if required</text>
<text transform="translate(37.900,1091.900) rotate(-90) scale(0.9997,1.0400)" font-size="18" fill="#111111" stroke="#fff" stroke-width="0.2">Incremental Cost per Life Year Gained ($USD)</text>
</svg>
</body></html>
